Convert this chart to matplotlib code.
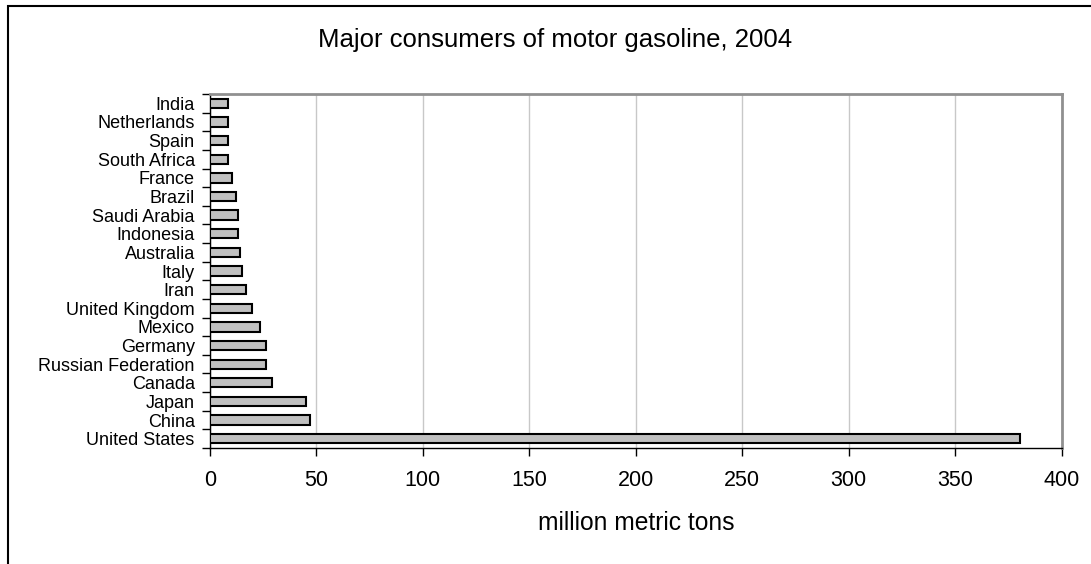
import matplotlib
matplotlib.use("Agg")
import matplotlib.pyplot as plt
from matplotlib.patches import Rectangle
import numpy as np

countries = ["United States", "China", "Japan", "Canada", "Russian Federation",
             "Germany", "Mexico", "United Kingdom", "Iran", "Italy", "Australia",
             "Indonesia", "Saudi Arabia", "Brazil", "France", "South Africa",
             "Spain", "Netherlands", "India"]
values = [380.5, 47.0, 45.1, 29.1, 26.3, 26.3, 23.5, 19.7, 16.9, 14.8, 14.1,
          13.2, 13.2, 12.2, 10.5, 8.6, 8.6, 8.6, 8.6]
xticks = [0, 50, 100, 150, 200, 250, 300, 350, 400]

plt.rcParams['font.family'] = ['Liberation Sans', 'DejaVu Sans']

fig = plt.figure(figsize=(10.91, 5.64), dpi=100)
W, H = 1091, 564
ax = fig.add_axes([210 / W, 1 - 448 / H, (1061.7 - 210) / W, (448 - 94) / H])

y = np.arange(len(countries))
ax.barh(y, values, height=0.5, color="#C0C0C0", edgecolor="black", linewidth=1.5, zorder=3)

ax.set_xlim(0, 400)
ax.set_ylim(-0.5, len(countries) - 0.5)
ax.set_xticks(xticks)
ax.set_xticklabels([str(v) for v in xticks], fontsize=15.5)
ax.tick_params(axis='x', direction='out', length=6, width=1, pad=10, color='black')

ax.set_yticks(np.arange(-0.5, len(countries), 1.0))
ax.set_yticklabels([])
ax.set_yticks(y, minor=True)
ax.set_yticklabels(countries, minor=True, fontsize=13)
ax.tick_params(axis='y', which='major', direction='out', length=6, width=1)
ax.tick_params(axis='y', which='minor', length=0, pad=11)

ax.grid(axis='x', color='#C8C8C8', linewidth=1, zorder=0)
ax.set_axisbelow(True)

for s in ['left', 'bottom']:
    ax.spines[s].set_color('black')
    ax.spines[s].set_linewidth(1)
for s in ['top', 'right']:
    ax.spines[s].set_color('#909090')
    ax.spines[s].set_linewidth(2)

ax.set_xlabel("million metric tons", fontsize=17.7, labelpad=14)
fig.text(555 / W, 1 - 40 / H, "Major consumers of motor gasoline, 2004",
         fontsize=18.5, ha='center', va='center')

fig.patches.append(Rectangle((7.5 / W, -0.1), 1.2, 1 - 6 / H + 0.1,
                             transform=fig.transFigure, fill=False,
                             edgecolor='black', linewidth=1.5))

fig.savefig("out.png", dpi=100)
